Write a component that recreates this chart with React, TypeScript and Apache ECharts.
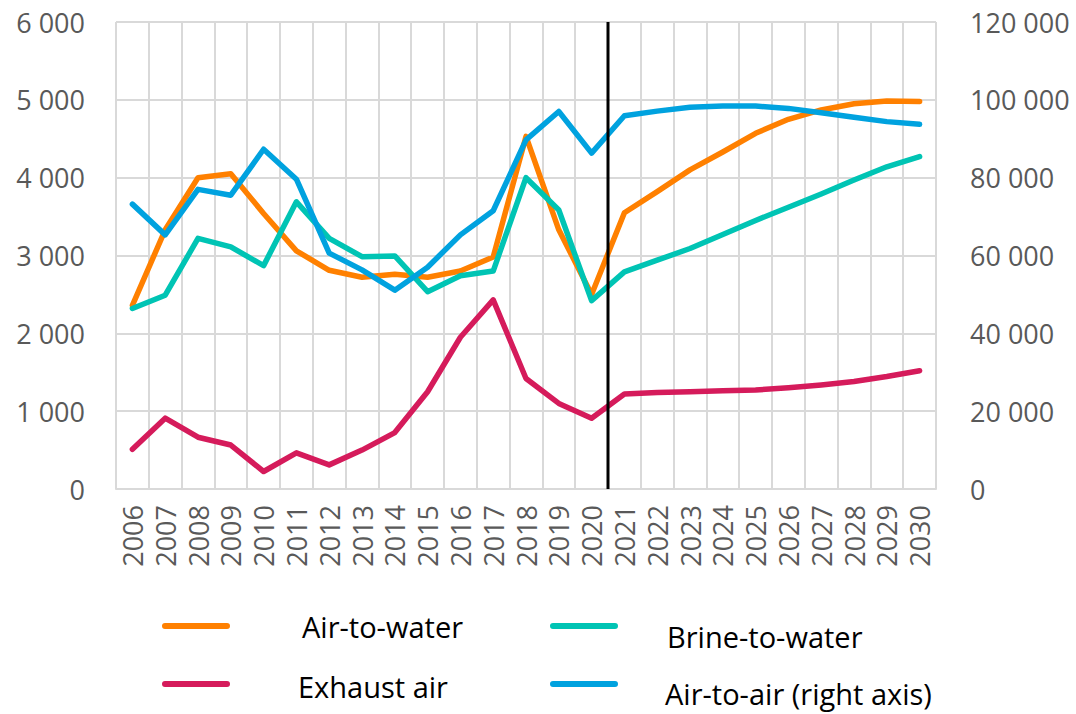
import React, { useEffect, useRef } from "react";
import * as echarts from "echarts";

const years = ["2006","2007","2008","2009","2010","2011","2012","2013","2014","2015","2016","2017","2018","2019","2020","2021","2022","2023","2024","2025","2026","2027","2028","2029","2030"];
const airToWater = [2360, 3330, 4000, 4050, 3540, 3060, 2810, 2720, 2760, 2720, 2800, 2980, 4530, 3330, 2500, 3550, 3820, 4100, 4330, 4570, 4750, 4870, 4950, 4985, 4980];
const brineToWater = [2320, 2490, 3220, 3110, 2870, 3690, 3220, 2985, 2995, 2535, 2740, 2800, 4000, 3585, 2420, 2790, 2940, 3090, 3270, 3450, 3620, 3790, 3970, 4140, 4270];
const exhaustAir = [510, 910, 665, 565, 225, 465, 310, 500, 725, 1250, 1950, 2430, 1420, 1100, 910, 1220, 1240, 1250, 1263, 1272, 1300, 1336, 1380, 1445, 1520];
const airToAir = [73200, 65300, 77000, 75500, 87300, 79600, 60600, 56300, 51100, 57000, 65300, 71500, 89700, 97000, 86300, 95900, 97100, 98100, 98400, 98400, 97800, 96700, 95500, 94400, 93700];
const forecastStart = 15; // boundary between 2020 and 2021 (category index units)

const names = ["Air-to-water", "Brine-to-water", "Exhaust air", "Air-to-air (right axis)"];
const colors = ["#FF8000", "#00C4B4", "#D51B5B", "#00A2DF"];

const fmt = (v: number) => String(v).replace(/\B(?=(\d{3})+(?!\d))/g, " ");
const FONT = "'Open Sans', sans-serif";
const GRID_COLOR = "#D9D9D9";

// legend swatch: a 68x6 rounded bar, with invisible points that shift the label's vertical centre by `shift` px
const swatch = (shift: number) => {
  const h = 40 + 2 * shift;
  return {
    h,
    path: `path://M0,0 L0.01,0 M3,17 L65,17 A3,3 0 0 1 65,23 L3,23 A3,3 0 0 1 3,17 Z M0,${h} L0.01,${h}`,
  };
};

export default function App() {
  const ref = useRef<HTMLDivElement>(null);
  useEffect(() => {
    if (!ref.current) return;
    const chart = echarts.init(ref.current, undefined, { renderer: "svg" });
    const lineSeries = (name: string, data: number[], color: string, yIdx: number) => ({
      name,
      type: "line",
      data,
      yAxisIndex: yIdx,
      xAxisIndex: 0,
      symbol: "none",
      lineStyle: { color, width: 5.5, cap: "round", join: "round" },
      itemStyle: { color },
    });
    const legendItem = (name: string, color: string, left: number, barY: number, shift: number, padLeft: number) => {
      const s = swatch(shift);
      return {
        data: [{ name, icon: s.path, itemStyle: { color, borderWidth: 0 } }],
        left,
        top: barY - 20,
        padding: 0,
        itemWidth: 68,
        itemHeight: s.h,
        symbolKeepAspect: false,
        textStyle: { fontFamily: FONT, fontSize: 29, color: "#000", padding: [0, 0, 0, padLeft] },
        selectedMode: false,
      };
    };
    chart.setOption({
      animation: false,
      backgroundColor: "#fff",
      grid: { left: 116, right: 140, top: 22, bottom: 225 },
      xAxis: [
        {
          type: "category",
          data: years,
          boundaryGap: true,
          axisLine: { show: true, lineStyle: { color: GRID_COLOR, width: 2 } },
          axisTick: { show: false },
          splitLine: { show: true, lineStyle: { color: GRID_COLOR, width: 2 } },
          axisLabel: { rotate: 90, interval: 0, margin: 16, fontFamily: FONT, fontSize: 27, color: "#595959" },
        },
        { type: "value", min: 0, max: years.length, show: false },
      ],
      yAxis: [
        {
          type: "value",
          min: 0,
          max: 6000,
          interval: 1000,
          axisLine: { show: false },
          axisTick: { show: false },
          splitLine: { show: true, lineStyle: { color: GRID_COLOR, width: 2 } },
          axisLabel: { margin: 31, fontFamily: FONT, fontSize: 27, color: "#595959", formatter: fmt },
        },
        {
          type: "value",
          min: 0,
          max: 120000,
          interval: 20000,
          position: "right",
          axisLine: { show: false },
          axisTick: { show: false },
          splitLine: { show: false },
          axisLabel: { margin: 34, fontFamily: FONT, fontSize: 27, color: "#595959", formatter: fmt },
        },
      ],
      legend: [
        legendItem(names[0], colors[0], 162, 626, 0.3, 67),
        legendItem(names[1], colors[1], 550, 626, 10.8, 44),
        legendItem(names[2], colors[2], 162, 684, 2.2, 63),
        legendItem(names[3], colors[3], 550, 684, 9, 42),
      ],
      series: [
        lineSeries(names[0], airToWater, colors[0], 0),
        lineSeries(names[1], brineToWater, colors[1], 0),
        lineSeries(names[2], exhaustAir, colors[2], 0),
        lineSeries(names[3], airToAir, colors[3], 1),
        {
          type: "line",
          xAxisIndex: 1,
          yAxisIndex: 0,
          data: [[forecastStart, 0], [forecastStart, 6000]],
          symbol: "none",
          lineStyle: { color: "#000", width: 3 },
          z: 10,
          silent: true,
          legendHoverLink: false,
        },
      ],
    });
    return () => chart.dispose();
  }, []);
  return <div ref={ref} style={{ width: 1076, height: 714, position: "absolute", left: 0, top: 0 }} />;
}
